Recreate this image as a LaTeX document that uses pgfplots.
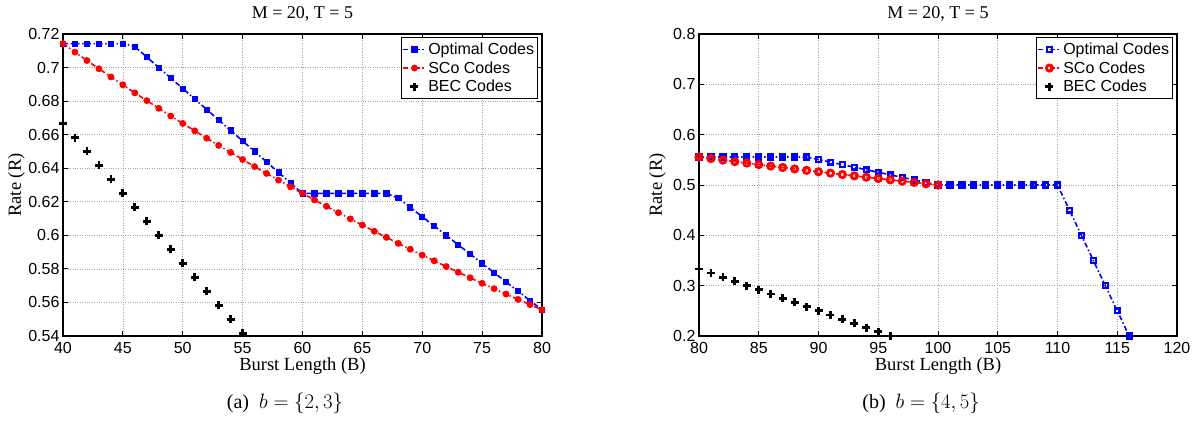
\documentclass[border=0pt]{standalone}
\usepackage[no-math]{fontspec}
\setmainfont{Liberation Serif}
\setsansfont{Liberation Sans}
\usepackage{pgfplots}
\pgfplotsset{compat=1.18}

\definecolor{mblue}{RGB}{0,0,255}
\definecolor{mred}{RGB}{255,0,0}

\pgfplotsset{
  matlab/.style={
    scale only axis,
    width=479pt, height=302pt,
    anchor=south west,
    clip=false,
    axis line style={line width=1.3pt},
    tick align=inside,
    tick pos=both,
    major tick length=5pt,
    every tick/.style={black, line width=0.8pt},
    grid=major,
    major grid style={dotted, gray!70, line width=0.6pt},
    /pgf/number format/assume math mode=true,
    tick label style={font=\fontsize{16}{18}\sffamily},
    xticklabel style={yshift=-3pt},
    label style={font=\fontsize{18.5}{21}\selectfont},
    % the default title style shifts up by 6pt; shifts add up, so take it back
    title style={font=\fontsize{18}{21}\selectfont, at={(axis description cs:0.5,1.065)}, anchor=center, yshift=-6pt},
    xlabel style={at={(axis description cs:0.5,-0.098)}, anchor=center},
    legend style={at={(1,1)}, anchor=north east, xshift=-4pt, yshift=-3pt,
      font=\fontsize{16}{18}\sffamily, draw=black, line width=0.8pt,
      inner xsep=1.5pt, inner ysep=3.5pt, row sep=1.5pt, legend cell align=left},
    legend image code/.code={\draw[mark repeat=2,mark phase=2] plot coordinates {(0pt,0pt) (11pt,0pt) (22pt,0pt)};},
  },
  dashdot/.style={dash pattern=on 5pt off 2.5pt on 1.5pt off 2.5pt, line width=1.6pt},
  bec/.style={black, only marks, line width=2.8pt, mark=+, mark size=4pt, mark options={line width=2.8pt}},
}

\begin{document}
\begin{tikzpicture}
\path[use as bounding box] (0,0) rectangle (1197pt,421pt);

\begin{axis}[matlab, at={(63pt,85pt)},
  xmin=40, xmax=80, ymin=0.54, ymax=0.72,
  xtick={40,45,...,80}, ytick={0.54,0.56,...,0.72},
  title={M = 20, T = 5}, xlabel={Burst Length (B)}, ylabel={Rate (R)},
  ylabel style={at={(axis description cs:-0.097,0.5)}, anchor=center},
]
\addplot[mblue, dashdot, mark=square*, mark size=2.6pt, mark options={solid, line width=0.8pt}] coordinates {
(40,0.7143) (41,0.7143) (42,0.7143) (43,0.7143) (44,0.7143) (45,0.7143)
(46,0.7125) (47,0.70625) (48,0.7) (49,0.69375) (50,0.6875) (51,0.68125)
(52,0.675) (53,0.66875) (54,0.6625) (55,0.65625) (56,0.65) (57,0.64375)
(58,0.6375) (59,0.63125) (60,0.625) (61,0.625) (62,0.625) (63,0.625)
(64,0.625) (65,0.625) (66,0.625) (67,0.625) (68,0.6222) (69,0.6167)
(70,0.6111) (71,0.6056) (72,0.6) (73,0.5944) (74,0.5889) (75,0.5833)
(76,0.5778) (77,0.5722) (78,0.5667) (79,0.5611) (80,0.5556)
};
\addlegendentry{Optimal Codes}
\addplot[mred, dashdot, mark=*, mark size=3pt, mark options={solid, line width=0.8pt}] coordinates {
(40,0.7143) (41,0.7092) (42,0.7042) (43,0.6993) (44,0.6944) (45,0.6897)
(46,0.6849) (47,0.6803) (48,0.6757) (49,0.6711) (50,0.6667) (51,0.6623)
(52,0.6579) (53,0.6536) (54,0.6494) (55,0.6452) (56,0.6410) (57,0.6369)
(58,0.6329) (59,0.6289) (60,0.6250) (61,0.6211) (62,0.6173) (63,0.6135)
(64,0.6098) (65,0.6061) (66,0.6024) (67,0.5988) (68,0.5952) (69,0.5917)
(70,0.5882) (71,0.5848) (72,0.5814) (73,0.5780) (74,0.5747) (75,0.5714)
(76,0.5682) (77,0.5650) (78,0.5618) (79,0.5587) (80,0.5556)
};
\addlegendentry{SCo Codes}
\addplot[bec] coordinates {
(40,0.6667) (41,0.6583) (42,0.65) (43,0.6417) (44,0.6333) (45,0.625)
(46,0.6167) (47,0.6083) (48,0.6) (49,0.5917) (50,0.5833) (51,0.575)
(52,0.5667) (53,0.5583) (54,0.55) (55,0.5417)
};
\addlegendentry{BEC Codes}
\end{axis}

\begin{axis}[matlab, at={(699pt,85pt)}, width=478pt,
  xmin=80, xmax=120, ymin=0.2, ymax=0.8,
  xtick={80,85,...,120}, ytick={0.2,0.3,...,0.8},
  title={M = 20, T = 5}, xlabel={Burst Length (B)}, ylabel={Rate (R)},
  ylabel style={at={(axis description cs:-0.087,0.5)}, anchor=center},
]
\addplot[mblue, dashdot, mark=square, mark size=2.4pt, mark options={solid, line width=2.4pt}] coordinates {
(80,0.5556) (81,0.5556) (82,0.5556) (83,0.5556) (84,0.5556) (85,0.5556)
(86,0.5556) (87,0.5556) (88,0.5556) (89,0.5556) (90,0.5505) (91,0.5455)
(92,0.5404) (93,0.5354) (94,0.5303) (95,0.5253) (96,0.5202) (97,0.5152)
(98,0.5101) (99,0.5051) (100,0.5) (101,0.5) (102,0.5) (103,0.5) (104,0.5)
(105,0.5) (106,0.5) (107,0.5) (108,0.5) (109,0.5) (110,0.5) (111,0.45)
(112,0.4) (113,0.35) (114,0.3) (115,0.25) (116,0.2)
};
\addlegendentry{Optimal Codes}
\addplot[mred, dashdot, mark=o, mark size=3.1pt, mark options={solid, line width=2.8pt}] coordinates {
(80,0.5556) (81,0.5525) (82,0.5495) (83,0.5464) (84,0.5435) (85,0.5405)
(86,0.5376) (87,0.5348) (88,0.5319) (89,0.5291) (90,0.5263) (91,0.5236)
(92,0.5208) (93,0.5181) (94,0.5155) (95,0.5128) (96,0.5102) (97,0.5076)
(98,0.5051) (99,0.5025) (100,0.5)
};
\addlegendentry{SCo Codes}
\addplot[bec] coordinates {
(80,0.3333) (81,0.325) (82,0.3167) (83,0.3083) (84,0.3) (85,0.2917)
(86,0.2833) (87,0.275) (88,0.2667) (89,0.2583) (90,0.25) (91,0.2417)
(92,0.2333) (93,0.225) (94,0.2167) (95,0.2083) (96,0.2)
};
\addlegendentry{BEC Codes}
\end{axis}

\node[font=\fontsize{20}{23}\selectfont] at (285pt,18pt) {(a)\ \ $b=\{2,3\}$};
\node[font=\fontsize{20}{23}\selectfont] at (921pt,18pt) {(b)\ \ $b=\{4,5\}$};
\end{tikzpicture}
\end{document}
